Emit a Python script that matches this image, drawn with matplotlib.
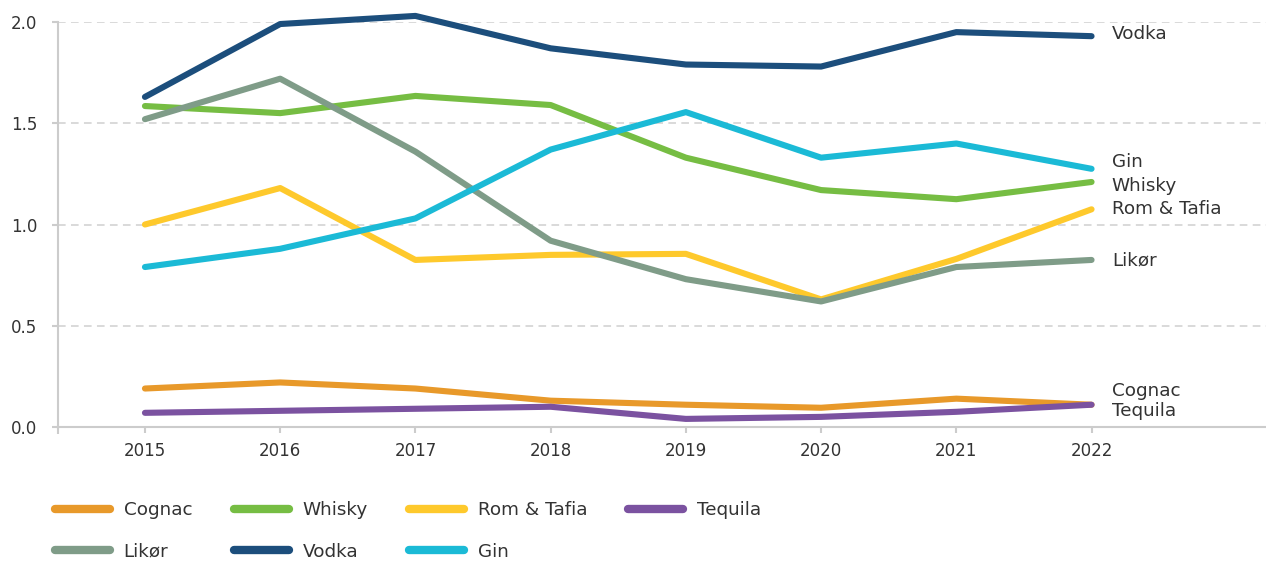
import matplotlib
matplotlib.use("Agg")
import matplotlib.pyplot as plt

years = [2015, 2016, 2017, 2018, 2019, 2020, 2021, 2022]
cognac = [0.19, 0.22, 0.19, 0.13, 0.11, 0.095, 0.14, 0.11]
whisky = [1.585, 1.55, 1.635, 1.59, 1.33, 1.17, 1.125, 1.21]
rom_tafia = [1.0, 1.18, 0.825, 0.85, 0.855, 0.63, 0.83, 1.075]
tequila = [0.07, 0.08, 0.09, 0.10, 0.04, 0.05, 0.075, 0.11]
likor = [1.52, 1.72, 1.36, 0.92, 0.73, 0.62, 0.79, 0.825]
vodka = [1.63, 1.99, 2.03, 1.87, 1.79, 1.78, 1.95, 1.93]
gin = [0.79, 0.88, 1.03, 1.37, 1.555, 1.33, 1.40, 1.275]

series = [
    ("Cognac", cognac, "#E8992A", 0.178),
    ("Whisky", whisky, "#76BD43", 1.19),
    ("Rom & Tafia", rom_tafia, "#FEC92C", 1.077),
    ("Tequila", tequila, "#7B52A0", 0.079),
    ("Likør", likor, "#7F9C88", 0.825),
    ("Vodka", vodka, "#1C4E7C", 1.94),
    ("Gin", gin, "#1BBAD6", 1.31),
]

txt = "#333333"
fig = plt.figure(figsize=(12.66, 5.61), dpi=100)
ax = fig.add_axes([58/1266, 1-427/561, 1-58/1266, 405/561])

hd = {}
for name, vals, col, ly in series:
    ln, = ax.plot(years, vals, color=col, lw=4.4, solid_capstyle="round",
                  solid_joinstyle="round", label=name, zorder=3, clip_on=False)
    hd[name] = ln
    ax.text(2022.15, ly, name, color=txt, fontsize=13.2, va="center", ha="left")

ax.set_xlim(2014.357, 2023.29)
ax.set_ylim(0, 2.0)
ax.set_yticks([0, 0.5, 1.0, 1.5, 2.0])
ax.set_yticklabels(["0.0", "0.5", "1.0", "1.5", "2.0"])
ax.set_xticks(years)
ax.set_xticks([2014.357], minor=True)
ax.tick_params(axis="x", which="minor", length=5, width=1.5, color="#cccccc")
ax.tick_params(axis="both", which="major", labelsize=12, labelcolor=txt,
               color="#cccccc", width=1.5, length=4)
ax.tick_params(axis="y", pad=11)
ax.tick_params(axis="x", pad=7)
for sp in ["top", "right"]:
    ax.spines[sp].set_visible(False)
for sp in ["left", "bottom"]:
    ax.spines[sp].set_color("#cccccc")
    ax.spines[sp].set_linewidth(1.5)
ax.yaxis.grid(True, color="#d0d0d0", linestyle=(0, (5, 3.5)), linewidth=1.1)
ax.set_axisbelow(True)
for gl in ax.get_ygridlines()[:1]:
    gl.set_visible(False)

order = ["Cognac", "Likør", "Whisky", "Vodka", "Rom & Tafia", "Gin", "Tequila"]
leg = fig.legend([hd[n] for n in order], order, ncol=4, loc="upper left",
                 bbox_to_anchor=(55/1266, 1-501/561), frameon=False,
                 fontsize=13.2, handlelength=3.0, handletextpad=0.75,
                 columnspacing=2.25, labelspacing=1.3, borderpad=0,
                 borderaxespad=0)
for t in leg.get_texts():
    t.set_color(txt)
for h in leg.legend_handles:
    h.set_linewidth(6)
    h.set_solid_capstyle("round")

fig.savefig("out.png", dpi=100)
